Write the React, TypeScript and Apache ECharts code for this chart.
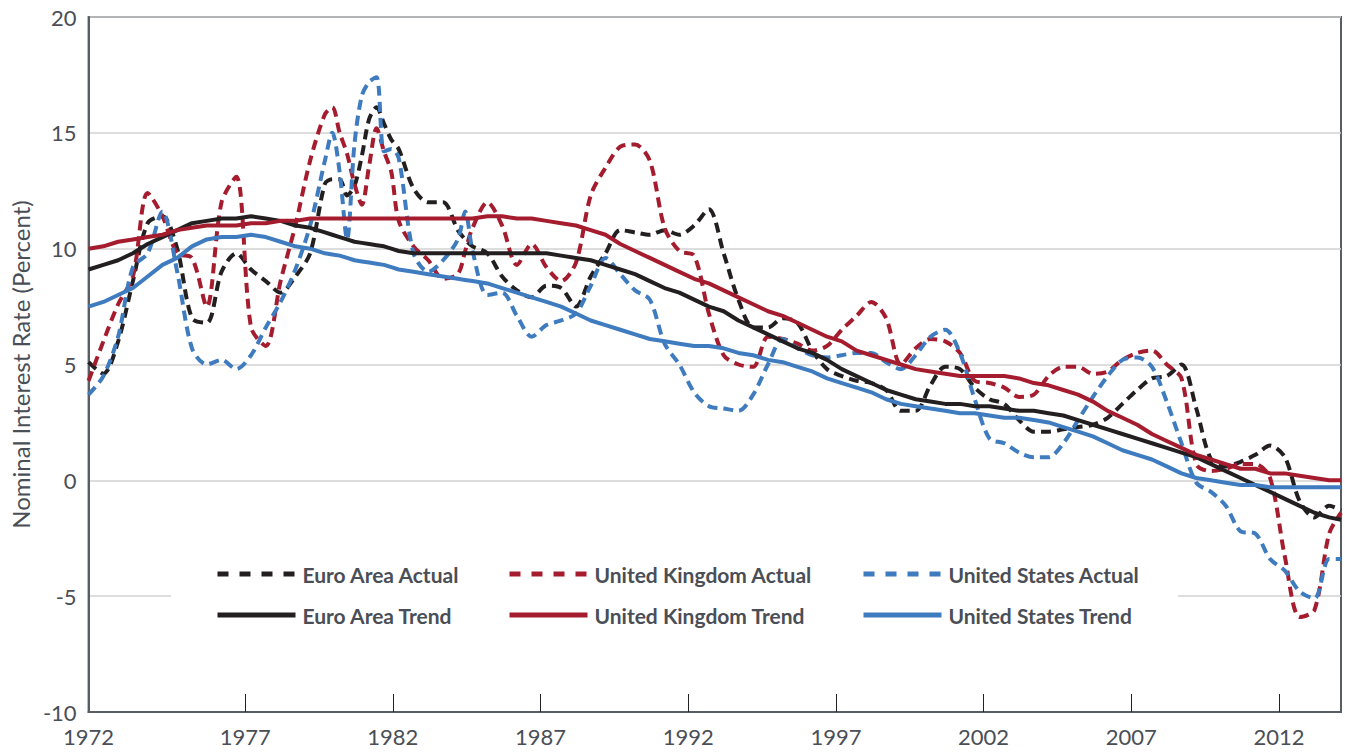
import React, { useEffect, useRef } from "react";
import * as echarts from "echarts";

// Sampling grid: half-year steps across the plot, plus a few extra quarter points
// around the sharp swings of 1980-1982 and 1984.
const baseYears: number[] = Array.from({ length: 85 }, (_, i) => Math.round((1971.7 + 0.5 * i) * 100) / 100);
const extraYears: number[] = [1979.95, 1980.45, 1980.95, 1981.45, 1981.95, 1984.45, 2014.1];
const years: number[] = [...baseYears, ...extraYears].sort((a, b) => a - b);

const tickYears: number[] = [1977, 1982, 1987, 1992, 1997, 2002, 2007, 2012];
const labelYears: number[] = [1971.7, ...tickYears];

const euroActual: number[] = [
  5.1, 4.6, 6.0, 8.6, 11.1, 11.4, 10.0, 7.0, 6.8, 9.0,
  9.8, 9.1, 8.6, 8.1, 8.8, 9.8, 12.8,
  13.0, 13.0, 12.3, 12.7, 14.0, 15.6, 16.1, 15.4, 14.7, 14.3,
  12.6, 12.0, 12.0, 10.8, 10.4, 10.1,
  9.8, 8.8, 8.2, 7.9, 8.4, 8.3, 7.5, 8.8, 9.8, 10.8,
  10.7, 10.6, 10.8, 10.6, 11.0, 11.7, 9.8, 7.8, 6.6, 6.6,
  7.0, 6.8, 5.6, 4.8, 4.5, 4.3, 4.2, 3.9, 3.0, 3.0,
  4.1, 4.9, 4.8, 4.0, 3.5, 3.3, 2.6, 2.1, 2.1, 2.2,
  2.3, 2.4, 2.7, 3.3, 3.9, 4.4, 4.5, 5.0, 3.1, 0.9,
  0.6, 0.8, 1.1, 1.5, 1.0, -0.9, -1.6, -1.1, -1.3,
];

const ukActual: number[] = [
  4.3, 6.0, 7.6, 8.8, 12.4, 11.4, 9.8, 9.6, 7.5, 12.0,
  13.1, 6.6, 5.8, 8.6, 11.0, 13.8, 15.8,
  16.1, 15.0, 14.1, 12.8, 11.9, 13.6, 15.2, 14.2, 13.3, 11.2,
  10.1, 9.5, 8.7, 8.9, 9.9, 10.9,
  12.0, 11.0, 9.3, 10.2, 9.2, 8.6, 9.4, 12.3, 13.5, 14.4,
  14.5, 13.8, 10.9, 9.9, 9.7, 7.2, 5.4, 5.0, 4.9, 6.2,
  6.1, 5.9, 5.6, 5.8, 6.5, 7.1, 7.7, 7.0, 5.0, 5.7,
  6.1, 6.0, 5.5, 4.3, 4.2, 4.0, 3.6, 3.7, 4.5, 4.9,
  4.9, 4.6, 4.7, 5.2, 5.5, 5.6, 5.0, 4.4, 0.7, 0.4,
  0.5, 0.7, 0.7, 0.1, -3.3, -5.9, -5.6, -2.3, -1.4,
];

const usActual: number[] = [
  3.7, 4.5, 6.2, 9.2, 9.8, 11.6, 9.0, 5.7, 5.0, 5.2,
  4.8, 5.4, 6.6, 7.7, 9.1, 11.0, 13.8,
  15.0, 13.3, 10.4, 14.5, 16.6, 17.2, 17.4, 14.2, 14.3, 13.9,
  9.8, 9.0, 9.5, 10.4, 11.6, 9.9,
  8.0, 8.1, 7.1, 6.2, 6.7, 6.9, 7.2, 8.4, 9.6, 8.9,
  8.2, 7.8, 5.9, 5.0, 3.8, 3.2, 3.1, 3.0, 3.7, 5.0,
  6.1, 5.7, 5.4, 5.3, 5.4, 5.5, 5.5, 5.1, 4.8, 5.4,
  6.2, 6.5, 5.5, 3.5, 1.8, 1.6, 1.2, 1.0, 1.0, 1.6,
  2.6, 3.6, 4.5, 5.2, 5.3, 4.9, 3.4, 1.6, -0.1, -0.5,
  -1.1, -2.2, -2.3, -3.4, -3.9, -4.8, -5.1, -3.4, -3.4,
];

const euroTrend: number[] = [
  9.1, 9.3, 9.5, 9.8, 10.2, 10.5, 10.8, 11.1, 11.2, 11.3,
  11.3, 11.4, 11.3, 11.2, 11.0, 10.9, 10.7,
  10.6, 10.5, 10.4, 10.3, 10.25, 10.2, 10.15, 10.1, 10.0, 9.9,
  9.8, 9.8, 9.8, 9.8, 9.8, 9.8,
  9.8, 9.8, 9.8, 9.8, 9.8, 9.7, 9.6, 9.5, 9.3, 9.1,
  8.9, 8.6, 8.3, 8.1, 7.8, 7.5, 7.3, 6.9, 6.6, 6.3,
  6.0, 5.7, 5.5, 5.2, 4.8, 4.5, 4.2, 3.9, 3.7, 3.5,
  3.4, 3.3, 3.3, 3.2, 3.2, 3.1, 3.0, 3.0, 2.9, 2.8,
  2.6, 2.4, 2.2, 2.0, 1.8, 1.6, 1.4, 1.2, 1.0, 0.7,
  0.4, 0.1, -0.2, -0.5, -0.8, -1.1, -1.4, -1.6, -1.7,
];

const ukTrend: number[] = [
  10.0, 10.1, 10.3, 10.4, 10.5, 10.6, 10.8, 10.9, 11.0, 11.0,
  11.0, 11.1, 11.1, 11.2, 11.2, 11.3, 11.3,
  11.3, 11.3, 11.3, 11.3, 11.3, 11.3, 11.3, 11.3, 11.3, 11.3,
  11.3, 11.3, 11.3, 11.3, 11.3, 11.3,
  11.4, 11.4, 11.3, 11.3, 11.2, 11.1, 11.0, 10.8, 10.6, 10.2,
  9.9, 9.6, 9.3, 9.0, 8.7, 8.5, 8.2, 7.9, 7.6, 7.3,
  7.1, 6.8, 6.5, 6.2, 6.0, 5.6, 5.4, 5.2, 5.0, 4.8,
  4.7, 4.6, 4.5, 4.5, 4.5, 4.5, 4.4, 4.2, 4.1, 3.9,
  3.7, 3.4, 3.0, 2.7, 2.4, 2.0, 1.7, 1.4, 1.1, 0.9,
  0.7, 0.5, 0.5, 0.3, 0.3, 0.2, 0.1, 0.0, 0.0,
];

const usTrend: number[] = [
  7.5, 7.7, 8.0, 8.3, 8.8, 9.3, 9.6, 10.1, 10.4, 10.5,
  10.5, 10.6, 10.5, 10.3, 10.1, 10.0, 9.8,
  9.75, 9.7, 9.6, 9.5, 9.45, 9.4, 9.35, 9.3, 9.2, 9.1,
  9.0, 8.9, 8.8, 8.7, 8.65, 8.6,
  8.5, 8.3, 8.1, 7.9, 7.7, 7.5, 7.2, 6.9, 6.7, 6.5,
  6.3, 6.1, 6.0, 5.9, 5.8, 5.8, 5.7, 5.5, 5.4, 5.2,
  5.1, 4.9, 4.7, 4.4, 4.2, 4.0, 3.8, 3.5, 3.3, 3.2,
  3.1, 3.0, 2.9, 2.9, 2.8, 2.7, 2.7, 2.6, 2.5, 2.3,
  2.1, 1.9, 1.6, 1.3, 1.1, 0.9, 0.6, 0.3, 0.1, 0.0,
  -0.1, -0.2, -0.2, -0.3, -0.3, -0.3, -0.3, -0.3, -0.3,
];

const BLACK = "#231f20";
const RED = "#a51c2e";
const BLUE = "#3e7bbf";
const TEXT = "#4a4e56";
const FONT = "Lato, 'Noto Sans', sans-serif";

type SeriesDef = { name: string; values: number[]; color: string; dashed: boolean };

const seriesDefs: SeriesDef[] = [
  { name: "Euro Area Actual", values: euroActual, color: BLACK, dashed: true },
  { name: "United Kingdom Actual", values: ukActual, color: RED, dashed: true },
  { name: "United States Actual", values: usActual, color: BLUE, dashed: true },
  { name: "Euro Area Trend", values: euroTrend, color: BLACK, dashed: false },
  { name: "United Kingdom Trend", values: ukTrend, color: RED, dashed: false },
  { name: "United States Trend", values: usTrend, color: BLUE, dashed: false },
];

const legendCols = [215, 507, 861];
const legendRows = [562, 603];

export default function App() {
  const ref = useRef<HTMLDivElement>(null);

  useEffect(() => {
    if (!ref.current) return;
    const chart = echarts.init(ref.current, undefined, { renderer: "svg" });

    const series = seriesDefs.map((s) => ({
      name: s.name,
      type: "line",
      data: years.map((y, i) => [y, s.values[i]]),
      showSymbol: false,
      symbol: "none",
      smooth: s.dashed ? 0.3 : false,
      lineStyle: {
        color: s.color,
        width: 4,
        type: s.dashed ? [10, 6] : "solid",
        cap: "butt",
      },
      itemStyle: { color: s.color },
      z: s.dashed ? 2 : 3,
    }));

    const legends = seriesDefs.map((s, i) => ({
      data: [s.name],
      left: legendCols[i % 3],
      top: legendRows[Math.floor(i / 3)],
      orient: "horizontal",
      itemWidth: 78,
      itemHeight: 14,
      padding: 0,
      selectedMode: false,
      itemStyle: { opacity: 0 },
      lineStyle: {
        width: 5,
        type: s.dashed ? [11, 11] : "solid",
        color: s.color,
        cap: "butt",
      },
      textStyle: {
        fontFamily: FONT,
        fontSize: 21,
        lineHeight: 24,
        fontWeight: "bold",
        color: TEXT,
        padding: [0, 0, 0, 2],
      },
    }));

    chart.setOption({
      animation: false,
      backgroundColor: "#ffffff",
      grid: {
        left: 85,
        right: 4,
        top: 17,
        bottom: 41,
        show: true,
        borderColor: "#585d64",
        borderWidth: 2,
        backgroundColor: "transparent",
      },
      legend: legends,
      graphic: [
        {
          type: "rect",
          z: 1,
          shape: { x: 171, y: 550, width: 1007, height: 90 },
          style: { fill: "#ffffff" },
          silent: true,
        },
      ],
      xAxis: {
        type: "value",
        min: 1971.7,
        max: 2014.1,
        axisLine: { show: true, onZero: false, lineStyle: { color: "#585d64", width: 2 } },
        axisTick: {
          show: true,
          inside: true,
          length: 18,
          customValues: tickYears,
          lineStyle: { color: "#222", width: 1 },
        },
        axisLabel: {
          customValues: labelYears,
          formatter: (v: number) => String(Math.round(v)),
          fontFamily: FONT,
          fontSize: 22,
          color: TEXT,
          margin: 13,
        },
        splitLine: { show: false },
      },
      yAxis: {
        type: "value",
        min: -10,
        max: 20,
        interval: 5,
        name: "Nominal Interest Rate (Percent)",
        nameLocation: "middle",
        nameGap: 50,
        nameTextStyle: { fontFamily: FONT, fontSize: 24, color: TEXT },
        axisLine: { show: true, lineStyle: { color: "#585d64", width: 2 } },
        axisTick: { show: false },
        axisLabel: { fontFamily: FONT, fontSize: 22, color: TEXT, margin: 12 },
        splitLine: { show: true, lineStyle: { color: "#d2d2d2", width: 1.5 } },
      },
      series,
    });

    return () => chart.dispose();
  }, []);

  return (
    <div
      ref={ref}
      style={{ position: "fixed", left: 0, top: 0, width: 1345, height: 753 }}
    />
  );
}
